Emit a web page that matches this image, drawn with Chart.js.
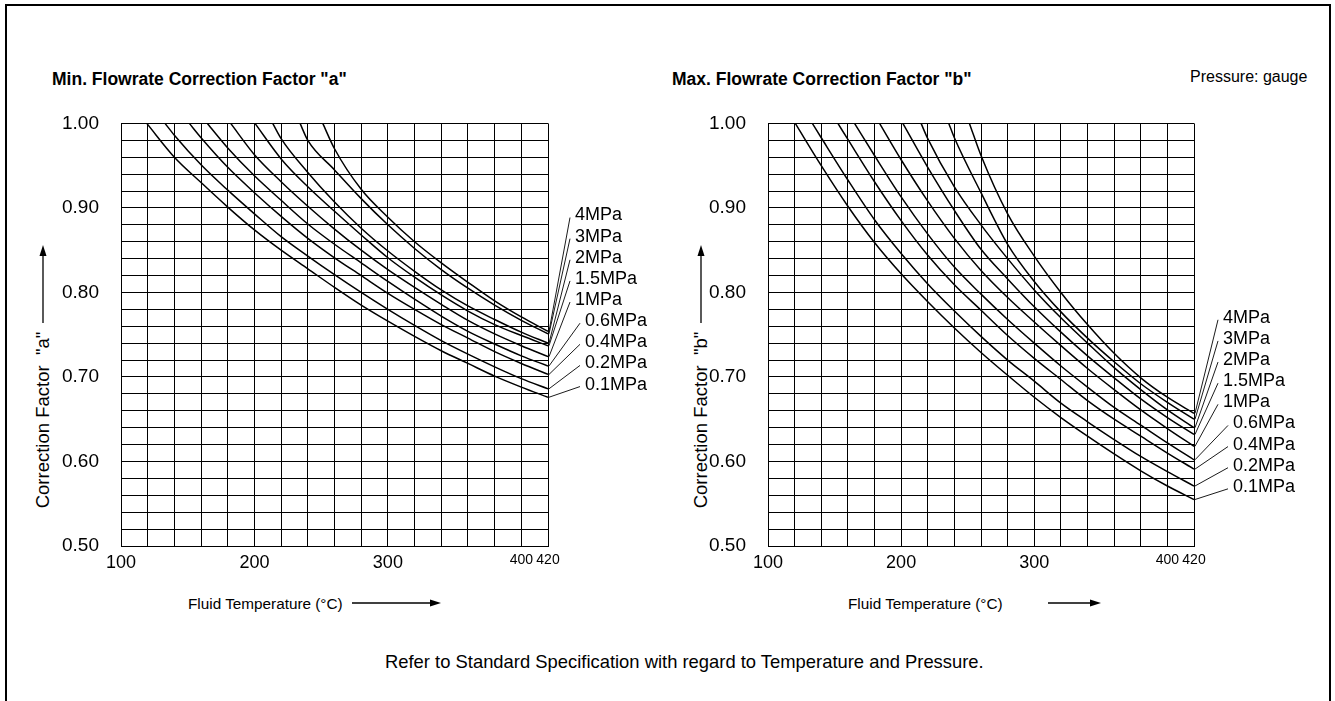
<!DOCTYPE html>
<html>
<head>
<meta charset="utf-8">
<title>Flowrate Correction Factors</title>
<script src="https://cdn.jsdelivr.net/npm/chart.js@4.4.0/dist/chart.umd.min.js"></script>
<style>
  body { margin: 0; background: #fff; font-family: "Liberation Sans", Arial, sans-serif; color: #000; }
  #page { position: relative; width: 1335px; height: 701px; overflow: hidden; }
  .frame { position: absolute; left: 5px; top: 4px; width: 1322px; height: 740px; border: 2px solid #000; }
  .box { position: absolute; width: 620px; height: 500px; top: 90px; }
  .txt { position: absolute; white-space: nowrap; line-height: 1; }
  .title { font-weight: bold; font-size: 17.5px; top: 71px; }
  .xtitle { font-size: 15.3px; top: 596px; }
  .ytitle { font-size: 18.5px; transform: translate(-50%, -50%) rotate(-90deg); }
  svg { position: absolute; left: 0; top: 0; }
</style>
</head>
<body>
<div id="page">
  <div class="frame"></div>

  <div class="txt title" style="left:52px">Min. Flowrate Correction Factor "a"</div>
  <div class="txt title" style="left:672px">Max. Flowrate Correction Factor "b"</div>
  <div class="txt" style="left:1190px; top:69px; font-size:16px">Pressure: gauge</div>

  <div class="txt ytitle" style="left:43px; top:420px">Correction Factor &nbsp;"a"</div>
  <div class="txt ytitle" style="left:701px; top:420px">Correction Factor &nbsp;"b"</div>

  <div class="txt xtitle" style="left:188px">Fluid Temperature (°C)</div>
  <div class="txt xtitle" style="left:848px">Fluid Temperature (°C)</div>

  <div class="txt" style="left:385px; top:653px; font-size:18.4px">Refer to Standard Specification with regard to Temperature and Pressure.</div>

  <div class="box" style="left:40px"><canvas id="chartA"></canvas></div>
  <div class="box" style="left:688px"><canvas id="chartB"></canvas></div>

  <svg width="1335" height="701">
    <g stroke="#000" stroke-width="1.3" fill="#000">
      <line x1="352" y1="603" x2="432" y2="603"/>
      <polygon points="441,603 430,599.5 430,606.5" stroke="none"/>
      <line x1="1048" y1="603" x2="1092" y2="603"/>
      <polygon points="1101,603 1090,599.5 1090,606.5" stroke="none"/>
      <line x1="43" y1="323" x2="43" y2="254"/>
      <polygon points="43,245 39.5,256 46.5,256" stroke="none"/>
      <line x1="701" y1="323" x2="701" y2="254"/>
      <polygon points="701,245 697.5,256 704.5,256" stroke="none"/>
    </g>
  </svg>
</div>

<script>
// pressure curves, top label first
const pressures = ['4MPa', '3MPa', '2MPa', '1.5MPa', '1MPa', '0.6MPa', '0.4MPa', '0.2MPa', '0.1MPa'];

const xTickLabels = [100, 200, 300, 400, 420];

// Min. flowrate factor "a": [temperature °C, factor]
const a4   = [[251.2,1.000],[260,0.970],[280,0.922],[300,0.889],[320,0.860],[340,0.835],[360,0.812],[380,0.790],[400,0.771],[420,0.754]];
const a3   = [[234.2,1.000],[240,0.980],[260,0.945],[280,0.911],[300,0.880],[320,0.852],[340,0.827],[360,0.805],[380,0.785],[400,0.767],[420,0.751]];
const a2   = [[213.7,1.000],[220,0.982],[240,0.942],[260,0.907],[280,0.876],[300,0.849],[320,0.825],[340,0.803],[360,0.784],[380,0.768],[400,0.753],[420,0.740]];
const a15  = [[200.4,1.000],[220,0.958],[240,0.925],[260,0.896],[280,0.868],[300,0.841],[320,0.818],[340,0.797],[360,0.778],[380,0.762],[400,0.749],[420,0.737]];
const a1   = [[182.2,1.000],[200,0.963],[220,0.931],[240,0.902],[260,0.875],[280,0.850],[300,0.827],[320,0.806],[340,0.786],[360,0.767],[380,0.751],[400,0.737],[420,0.724]];
const a06  = [[164.7,1.000],[180,0.971],[200,0.938],[220,0.909],[240,0.881],[260,0.857],[280,0.835],[300,0.813],[320,0.792],[340,0.772],[360,0.754],[380,0.739],[400,0.725],[420,0.713]];
const a04  = [[151.2,1.000],[160,0.983],[180,0.948],[200,0.918],[220,0.890],[240,0.864],[260,0.841],[280,0.820],[300,0.799],[320,0.780],[340,0.762],[360,0.746],[380,0.730],[400,0.716],[420,0.703]];
const a02  = [[133.0,1.000],[140,0.986],[160,0.951],[180,0.921],[200,0.893],[220,0.866],[240,0.843],[260,0.821],[280,0.800],[300,0.780],[320,0.761],[340,0.743],[360,0.727],[380,0.712],[400,0.698],[420,0.686]];
const a01  = [[119.3,1.000],[140,0.960],[160,0.930],[180,0.901],[200,0.874],[220,0.850],[240,0.828],[260,0.806],[280,0.785],[300,0.766],[320,0.748],[340,0.731],[360,0.716],[380,0.701],[400,0.688],[420,0.676]];

// Max. flowrate factor "b"
const b4   = [[251.3,1.000],[260,0.962],[280,0.893],[300,0.843],[320,0.800],[340,0.762],[360,0.728],[380,0.699],[400,0.676],[420,0.657]];
const b3   = [[235.8,1.000],[240,0.983],[260,0.918],[280,0.857],[300,0.813],[320,0.777],[340,0.746],[360,0.718],[380,0.692],[400,0.670],[420,0.650]];
const b2   = [[215.0,1.000],[220,0.982],[240,0.925],[260,0.880],[280,0.840],[300,0.803],[320,0.770],[340,0.740],[360,0.711],[380,0.685],[400,0.661],[420,0.640]];
const b15  = [[201.3,1.000],[220,0.948],[240,0.897],[260,0.851],[280,0.816],[300,0.783],[320,0.753],[340,0.725],[360,0.699],[380,0.674],[400,0.652],[420,0.632]];
const b1   = [[183.8,1.000],[200,0.957],[220,0.908],[240,0.864],[260,0.826],[280,0.794],[300,0.765],[320,0.737],[340,0.710],[360,0.685],[380,0.661],[400,0.639],[420,0.618]];
const b06  = [[165.0,1.000],[180,0.962],[200,0.913],[220,0.869],[240,0.830],[260,0.798],[280,0.768],[300,0.740],[320,0.713],[340,0.688],[360,0.664],[380,0.643],[400,0.622],[420,0.602]];
const b04  = [[152.5,1.000],[160,0.981],[180,0.931],[200,0.885],[220,0.844],[240,0.809],[260,0.779],[280,0.749],[300,0.722],[320,0.697],[340,0.672],[360,0.650],[380,0.630],[400,0.610],[420,0.591]];
const b02  = [[133.3,1.000],[140,0.983],[160,0.933],[180,0.886],[200,0.846],[220,0.810],[240,0.778],[260,0.748],[280,0.720],[300,0.695],[320,0.669],[340,0.647],[360,0.626],[380,0.606],[400,0.588],[420,0.571]];
const b01  = [[120.5,1.000],[140,0.950],[160,0.902],[180,0.859],[200,0.822],[220,0.789],[240,0.758],[260,0.729],[280,0.702],[300,0.676],[320,0.652],[340,0.630],[360,0.609],[380,0.589],[400,0.571],[420,0.555]];

const FONT = '"Liberation Sans", Arial, sans-serif';

// labels right of the plot with leader lines to the curve ends
const pressureLabels = {
    id: 'pressureLabels',
    afterDatasetsDraw(chart, args, opts) {
        const { ctx, chartArea, scales } = chart;
        ctx.save();
        ctx.font = '18px ' + FONT;
        ctx.fillStyle = '#000';
        ctx.strokeStyle = '#000';
        ctx.lineWidth = 0.9;
        ctx.textBaseline = 'middle';
        chart.data.datasets.forEach((ds, i) => {
            const pts = chart.getDatasetMeta(i).data;
            const end = pts[pts.length - 1];
            const lx = chartArea.right + (i < 5 ? opts.near : opts.far);
            const ly = scales.y.getPixelForValue(opts.top - i * opts.step);
            ctx.beginPath();
            ctx.moveTo(end.x + 1, end.y);
            ctx.lineTo(lx - 5, ly + 2);
            ctx.stroke();
            ctx.fillText(ds.label, lx, ly);
        });
        ctx.restore();
    }
};

function makeChart(id, series, axisLeft, padRight, labelOpts) {
    return new Chart(document.getElementById(id), {
        type: 'line',
        data: {
            datasets: series.map((s, i) => ({
                label: pressures[i],
                data: s,
                borderColor: '#000',
                borderWidth: 1.5,
                pointRadius: 0,
                fill: false,
                cubicInterpolationMode: 'monotone'
            }))
        },
        options: {
            responsive: true,
            maintainAspectRatio: false,
            animation: false,
            layout: { padding: { left: 0, top: 0, right: padRight, bottom: 0 } },
            plugins: {
                legend: { display: false },
                tooltip: { enabled: false },
                pressureLabels: labelOpts
            },
            scales: {
                x: {
                    type: 'linear',
                    min: 100, max: 420,
                    afterFit: s => { s.height = 44; },
                    grid: { color: '#000', lineWidth: 1, drawTicks: false },
                    border: { color: '#000', width: 1 },
                    ticks: {
                        stepSize: 20,
                        autoSkip: false,
                        maxRotation: 0,
                        padding: 6,
                        color: '#000',
                        font: c => ({ family: FONT, size: (c.tick && c.tick.value >= 400) ? 14 : 18 }),
                        callback: v => xTickLabels.includes(v) ? String(v) : ''
                    }
                },
                y: {
                    min: 0.5, max: 1.0,
                    afterFit: s => { s.width = axisLeft; },
                    grid: { color: '#000', lineWidth: 1, drawTicks: false },
                    border: { color: '#000', width: 1 },
                    ticks: {
                        stepSize: 0.02,
                        autoSkip: false,
                        padding: 22,
                        color: '#000',
                        font: { family: FONT, size: 19 },
                        callback: v => {
                            const c = Math.round(v * 100);
                            return c % 10 === 0 ? (c / 100).toFixed(2) : '';
                        }
                    }
                }
            }
        },
        plugins: [pressureLabels]
    });
}

makeChart('chartA', [a4, a3, a2, a15, a1, a06, a04, a02, a01], 81, 112,
    { top: 0.891, step: 0.025, near: 27, far: 37 });
makeChart('chartB', [b4, b3, b2, b15, b1, b06, b04, b02, b01], 80, 114,
    { top: 0.770, step: 0.025, near: 29, far: 39 });
</script>
</body>
</html>
